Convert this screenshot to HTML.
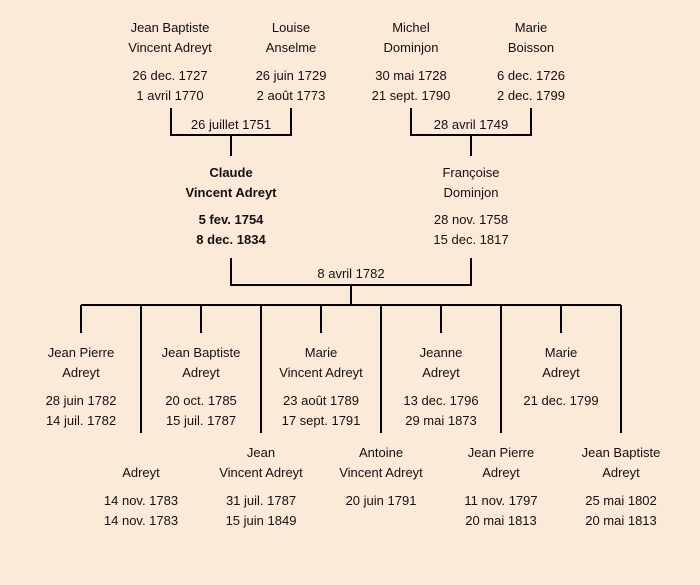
<!DOCTYPE html>
<html><head><meta charset="utf-8"><style>
body{margin:0;width:700px;height:585px;background:#fcead8;position:relative;overflow:hidden;font-family:"Comic Sans MS","Liberation Sans",sans-serif;font-size:13px;color:#111}
.t{position:absolute;width:140px;margin-left:-70px;margin-top:1px;text-align:center;line-height:20px;white-space:nowrap}
.b{font-weight:bold}
svg{position:absolute;left:0;top:0}
</style></head><body>
<svg width="700" height="585"><g stroke="#000" stroke-width="2" fill="none">
<path d="M171 108V135H291V108M231 135V156"/>
<path d="M411 108V135H531V108M471 135V156"/>
<path d="M231 258V285H471V258M351 285V305M81 305H621"/>
<path d="M81 305V333M201 305V333M321 305V333M441 305V333M561 305V333"/>
<path d="M141 305V433M261 305V433M381 305V433M501 305V433M621 305V433"/>
</g></svg>
<div class="t" style="left:170px;top:17px">Jean Baptiste<br>Vincent Adreyt</div>
<div class="t" style="left:170px;top:65px">26 dec. 1727<br>1 avril 1770</div>
<div class="t" style="left:291px;top:17px">Louise<br>Anselme</div>
<div class="t" style="left:291px;top:65px">26 juin 1729<br>2 août 1773</div>
<div class="t" style="left:411px;top:17px">Michel<br>Dominjon</div>
<div class="t" style="left:411px;top:65px">30 mai 1728<br>21 sept. 1790</div>
<div class="t" style="left:531px;top:17px">Marie<br>Boisson</div>
<div class="t" style="left:531px;top:65px">6 dec. 1726<br>2 dec. 1799</div>
<div class="t" style="left:231px;top:114px">26 juillet 1751</div>
<div class="t" style="left:471px;top:114px">28 avril 1749</div>
<div class="t b" style="left:231px;top:162px">Claude<br>Vincent Adreyt</div>
<div class="t b" style="left:231px;top:209px">5 fev. 1754<br>8 dec. 1834</div>
<div class="t" style="left:471px;top:162px">Françoise<br>Dominjon</div>
<div class="t" style="left:471px;top:209px">28 nov. 1758<br>15 dec. 1817</div>
<div class="t" style="left:351px;top:263px">8 avril 1782</div>

<div class="t" style="left:81px;top:342px">Jean Pierre<br>Adreyt</div>
<div class="t" style="left:81px;top:390px">28 juin 1782<br>14 juil. 1782</div>
<div class="t" style="left:201px;top:342px">Jean Baptiste<br>Adreyt</div>
<div class="t" style="left:201px;top:390px">20 oct. 1785<br>15 juil. 1787</div>
<div class="t" style="left:321px;top:342px">Marie<br>Vincent Adreyt</div>
<div class="t" style="left:321px;top:390px">23 août 1789<br>17 sept. 1791</div>
<div class="t" style="left:441px;top:342px">Jeanne<br>Adreyt</div>
<div class="t" style="left:441px;top:390px">13 dec. 1796<br>29 mai 1873</div>
<div class="t" style="left:561px;top:342px">Marie<br>Adreyt</div>
<div class="t" style="left:561px;top:390px">21 dec. 1799</div>

<div class="t" style="left:141px;top:462px">Adreyt</div>
<div class="t" style="left:141px;top:490px">14 nov. 1783<br>14 nov. 1783</div>
<div class="t" style="left:261px;top:442px">Jean<br>Vincent Adreyt</div>
<div class="t" style="left:261px;top:490px">31 juil. 1787<br>15 juin 1849</div>
<div class="t" style="left:381px;top:442px">Antoine<br>Vincent Adreyt</div>
<div class="t" style="left:381px;top:490px">20 juin 1791</div>
<div class="t" style="left:501px;top:442px">Jean Pierre<br>Adreyt</div>
<div class="t" style="left:501px;top:490px">11 nov. 1797<br>20 mai 1813</div>
<div class="t" style="left:621px;top:442px">Jean Baptiste<br>Adreyt</div>
<div class="t" style="left:621px;top:490px">25 mai 1802<br>20 mai 1813</div>
</body></html>
